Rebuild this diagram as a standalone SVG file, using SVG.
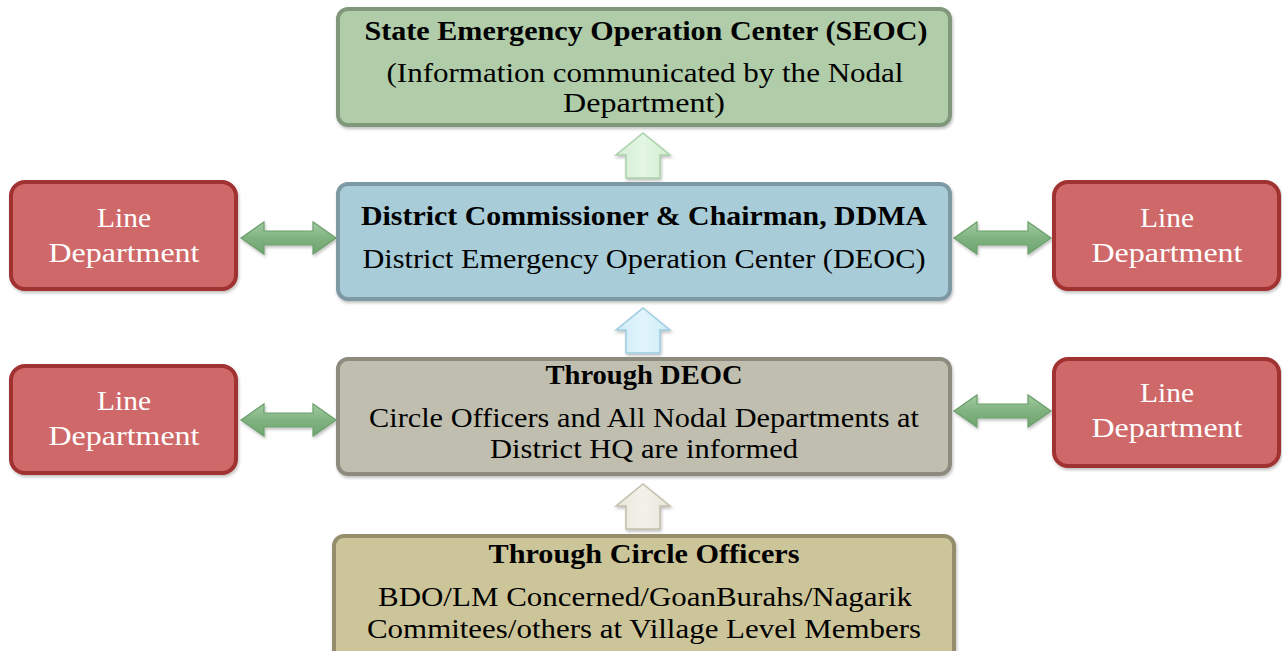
<svg xmlns="http://www.w3.org/2000/svg" width="1282" height="651" viewBox="0 0 1282 651">
<style>
.t{font-family:"Liberation Serif","DejaVu Serif",serif;font-size:27px;text-anchor:middle;fill:#000}
.b{font-weight:bold}
.w{fill:#fff}
.box{stroke-width:4}
</style>
<defs>
<filter id="sh" x="-10%" y="-10%" width="120%" height="130%">
<feDropShadow dx="1" dy="2" stdDeviation="1.5" flood-color="#000" flood-opacity="0.25"/>
</filter>
<linearGradient id="gG" x1="0" y1="0" x2="0" y2="1">
<stop offset="0" stop-color="#a3cca3"/><stop offset="0.5" stop-color="#7fb27f"/><stop offset="1" stop-color="#6fa56f"/>
</linearGradient>
<linearGradient id="u1" x1="0" y1="0" x2="1" y2="0">
<stop offset="0" stop-color="#d2ecd2"/><stop offset="0.5" stop-color="#e4f6e4"/><stop offset="1" stop-color="#d2ecd2"/>
</linearGradient>
<linearGradient id="u2" x1="0" y1="0" x2="1" y2="0">
<stop offset="0" stop-color="#cdeaf6"/><stop offset="0.5" stop-color="#e2f5fc"/><stop offset="1" stop-color="#cdeaf6"/>
</linearGradient>
<linearGradient id="u3" x1="0" y1="0" x2="1" y2="0">
<stop offset="0" stop-color="#e8e6da"/><stop offset="0.5" stop-color="#f3f2ea"/><stop offset="1" stop-color="#e8e6da"/>
</linearGradient>
</defs>
<rect width="1282" height="651" fill="#fff"/>

<g id="connectors">
<path d="M643,133 L670,155 L660,155 L660,178 L626,178 L626,155 L616,155 Z" fill="url(#u1)" stroke="#a9d1a9" stroke-width="1.5" filter="url(#sh)"/>
<path d="M643,308 L670,330 L660,330 L660,353 L626,353 L626,330 L616,330 Z" fill="url(#u2)" stroke="#9ccde0" stroke-width="1.5" filter="url(#sh)"/>
<path d="M643,484 L670,506 L660,506 L660,529 L626,529 L626,506 L616,506 Z" fill="url(#u3)" stroke="#c2bfac" stroke-width="1.5" filter="url(#sh)"/>
<path d="M241,238 L264,222 L264,231 L313,231 L313,222 L336,238 L313,254 L313,245 L264,245 L264,254 Z" fill="url(#gG)" stroke="#6c9f6c" stroke-width="1.2" filter="url(#sh)"/>
<path d="M954,238 L977,222 L977,231 L1028,231 L1028,222 L1051,238 L1028,254 L1028,245 L977,245 L977,254 Z" fill="url(#gG)" stroke="#6c9f6c" stroke-width="1.2" filter="url(#sh)"/>
<path d="M241,420 L264,404 L264,413 L313,413 L313,404 L336,420 L313,436 L313,427 L264,427 L264,436 Z" fill="url(#gG)" stroke="#6c9f6c" stroke-width="1.2" filter="url(#sh)"/>
<path d="M954,411 L977,395 L977,404 L1028,404 L1028,395 L1051,411 L1028,427 L1028,418 L977,418 L977,427 Z" fill="url(#gG)" stroke="#6c9f6c" stroke-width="1.2" filter="url(#sh)"/>
</g>

<g id="seoc">
<rect x="338" y="9" width="612" height="116" rx="10" fill="#b0cca9" stroke="#80977b" class="box" filter="url(#sh)"/>
<text class="t b" x="646" y="40" textLength="563" lengthAdjust="spacingAndGlyphs">State Emergency Operation Center (SEOC)</text>
<text class="t" x="645" y="82" textLength="517" lengthAdjust="spacingAndGlyphs">(Information communicated by the Nodal</text>
<text class="t" x="644" y="112" textLength="162" lengthAdjust="spacingAndGlyphs">Department)</text>
</g>

<g id="deoc">
<rect x="338" y="184" width="612" height="115" rx="10" fill="#a8ccd8" stroke="#7d99a3" class="box" filter="url(#sh)"/>
<text class="t b" x="644" y="225" textLength="566" lengthAdjust="spacingAndGlyphs">District Commissioner &amp; Chairman, DDMA</text>
<text class="t" x="644" y="268" textLength="563" lengthAdjust="spacingAndGlyphs">District Emergency Operation Center (DEOC)</text>
</g>

<g id="through-deoc">
<rect x="338" y="359" width="612" height="115" rx="10" fill="#c0bfaf" stroke="#8c8b7d" class="box" filter="url(#sh)"/>
<text class="t b" x="644" y="384" textLength="197" lengthAdjust="spacingAndGlyphs">Through DEOC</text>
<text class="t" x="644" y="427" textLength="550" lengthAdjust="spacingAndGlyphs">Circle Officers and All Nodal Departments at</text>
<text class="t" x="644" y="458" textLength="308" lengthAdjust="spacingAndGlyphs">District HQ are informed</text>
</g>

<g id="circle-officers">
<rect x="334" y="536" width="620" height="125" rx="10" fill="#cdc59a" stroke="#958e6b" class="box" filter="url(#sh)"/>
<text class="t b" x="644" y="563" textLength="311" lengthAdjust="spacingAndGlyphs">Through Circle Officers</text>
<text class="t" x="645" y="606" textLength="534" lengthAdjust="spacingAndGlyphs">BDO/LM Concerned/GoanBurahs/Nagarik</text>
<text class="t" x="644" y="638" textLength="554" lengthAdjust="spacingAndGlyphs">Commitees/others at Village Level Members</text>
</g>

<g id="line-dept-1">
<rect x="11" y="182" width="225" height="107" rx="14" fill="#cf6767" stroke="#a03131" class="box" filter="url(#sh)"/>
<text class="t w" x="124" y="227" textLength="54" lengthAdjust="spacingAndGlyphs">Line</text>
<text class="t w" x="124" y="262" textLength="151" lengthAdjust="spacingAndGlyphs">Department</text>
</g>

<g id="line-dept-2">
<rect x="1054" y="182" width="225" height="107" rx="14" fill="#cf6767" stroke="#a03131" class="box" filter="url(#sh)"/>
<text class="t w" x="1167" y="227" textLength="54" lengthAdjust="spacingAndGlyphs">Line</text>
<text class="t w" x="1167" y="262" textLength="151" lengthAdjust="spacingAndGlyphs">Department</text>
</g>

<g id="line-dept-3">
<rect x="11" y="366" width="225" height="107" rx="14" fill="#cf6767" stroke="#a03131" class="box" filter="url(#sh)"/>
<text class="t w" x="124" y="410" textLength="54" lengthAdjust="spacingAndGlyphs">Line</text>
<text class="t w" x="124" y="445" textLength="151" lengthAdjust="spacingAndGlyphs">Department</text>
</g>

<g id="line-dept-4">
<rect x="1054" y="359" width="225" height="107" rx="14" fill="#cf6767" stroke="#a03131" class="box" filter="url(#sh)"/>
<text class="t w" x="1167" y="402" textLength="54" lengthAdjust="spacingAndGlyphs">Line</text>
<text class="t w" x="1167" y="437" textLength="151" lengthAdjust="spacingAndGlyphs">Department</text>
</g>
</svg>
